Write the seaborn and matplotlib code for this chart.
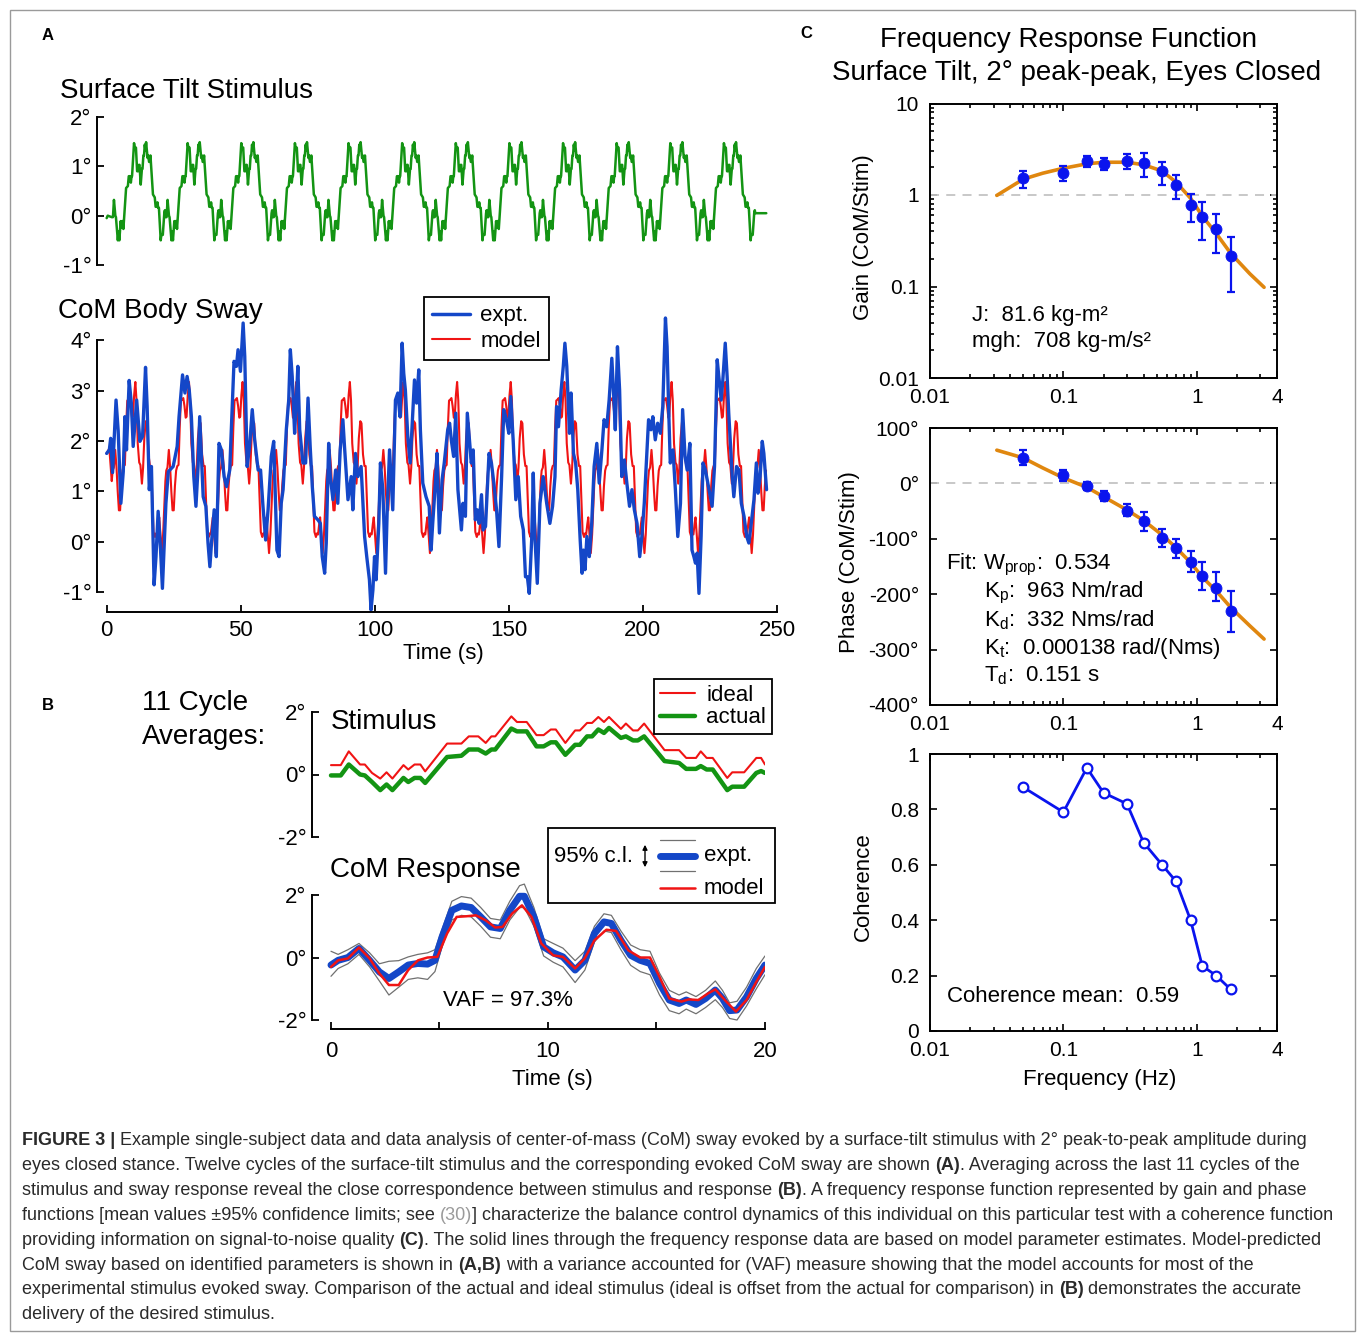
import re

import numpy as np
import matplotlib

matplotlib.use("Agg")
import matplotlib.pyplot as plt
import seaborn as sns
from matplotlib.lines import Line2D
from matplotlib.patches import Rectangle, FancyArrowPatch

W, H = 1357, 1334
FONT = "Liberation Sans"

BLUE = "#1447c8"
RED = "#f01414"
GREEN = "#139413"
CBLUE = "#0a14ee"
ORANGE = "#e0870f"

# ---------------- panel A: CoM sway over the whole trial (expt.) ----------------
a_expt_t = [
    0.0, 1.0, 1.5, 2.2, 3.5, 4.3, 5.3, 6.2, 6.8, 7.4,
    8.4, 9.2, 9.9, 11.2, 12.4, 13.4, 14.5, 15.1, 15.9, 16.7,
    17.7, 18.4, 19.2, 20.1, 20.8, 22.1, 23.0, 24.8, 26.3, 27.0,
    28.3, 29.2, 30.0, 30.8, 31.6, 32.5, 33.3, 34.1, 34.7, 36.0,
    37.0, 37.8, 38.5, 39.1, 40.1, 40.9, 41.9, 42.8, 43.8, 44.7,
    45.9, 46.5, 47.5, 48.4, 49.0, 49.9, 50.9, 51.5, 52.4, 53.3,
    54.3, 55.2, 56.5, 57.4, 58.3, 59.3, 60.2, 61.4, 62.3, 63.0,
    63.5, 64.3, 65.1, 65.8, 67.0, 67.9, 68.5, 69.2, 70.1, 70.7,
    71.3, 72.0, 73.2, 74.2, 75.1, 75.9, 76.7, 77.5, 78.8, 79.7,
    80.4, 81.3, 81.9, 82.8, 83.4, 84.4, 85.4, 86.2, 87.1, 88.1,
    88.7, 90.0, 91.2, 91.8, 92.8, 93.7, 94.9, 96.2, 97.0, 98.0,
    98.6, 99.3, 99.9, 100.5, 101.5, 102.1, 103.0, 104.0, 104.6, 105.5,
    106.1, 106.7, 107.7, 108.6, 109.4, 110.2, 110.8, 111.4, 112.3, 113.2,
    113.9, 114.8, 115.6, 116.4, 117.0, 117.9, 119.1, 120.3, 121.0, 121.6,
    122.6, 123.2, 124.1, 125.1, 125.9, 127.2, 127.9, 128.6, 129.4, 130.2,
    131.0, 132.3, 132.9, 133.8, 134.5, 135.4, 136.0, 136.7, 137.5, 138.2,
    138.9, 139.8, 140.4, 141.3, 142.6, 143.5, 144.4, 145.4, 146.3, 147.3,
    148.1, 149.1, 150.0, 150.7, 151.6, 152.6, 153.5, 154.4, 155.4, 156.2,
    156.9, 157.6, 158.5, 159.1, 159.7, 160.6, 161.6, 162.8, 164.1, 165.3,
    166.3, 167.2, 167.8, 168.5, 169.5, 170.3, 170.9, 171.6, 172.6, 173.2,
    174.1, 174.9, 175.7, 176.6, 177.3, 177.8, 178.4, 179.1, 180.0, 180.9,
    181.8, 182.8, 183.7, 184.7, 185.5, 186.5, 187.4, 188.4, 189.0, 189.7,
    190.5, 191.3, 192.1, 193.1, 194.0, 195.0, 195.9, 196.8, 197.8, 198.8,
    199.6, 200.5, 201.2, 202.1, 203.0, 203.7, 204.6, 205.5, 206.5, 207.4,
    208.4, 209.0, 209.6, 210.2, 211.2, 212.1, 213.0, 214.0, 214.8, 215.7,
    216.5, 217.5, 218.3, 219.0, 219.6, 220.2, 220.9, 221.7, 222.4, 223.3,
    224.2, 224.9, 225.8, 226.7, 227.7, 228.3, 229.2, 229.8, 230.7, 231.4,
    232.0, 232.7, 233.3, 233.9, 234.9, 235.8, 236.7, 237.7, 238.7, 239.5,
    240.4, 241.4, 242.3, 242.9, 243.7, 244.5, 245.1, 246.1,
]
a_expt = [
    1.75, 1.82, 2.05, 1.37, 2.81, 2.20, 0.76, 1.39, 2.48, 1.82,
    3.20, 2.75, 1.89, 2.81, 1.99, 2.09, 3.46, 2.68, 1.03, 1.49,
    -0.86, -0.30, 0.60, -0.17, -0.93, 0.76, 1.39, 1.49, 1.89, 2.48,
    3.31, 2.95, 3.28, 3.01, 2.48, 1.29, 0.70, 1.49, 2.48, 0.89,
    0.70, -0.03, -0.50, -0.03, 0.63, -0.30, 1.95, 1.82, 1.29, 1.09,
    1.42, 2.22, 3.58, 3.48, 3.81, 3.38, 4.34, 3.68, 1.49, 1.89,
    2.62, 2.02, 1.42, 1.42, 0.70, 0.03, 0.63, 1.69, 1.99, 0.76,
    -0.17, -0.30, 0.76, 1.03, 2.22, 2.81, 3.81, 3.28, 2.15, 2.75,
    3.48, 2.22, 1.56, 1.56, 2.85, 1.89, 1.09, 0.50, 0.43, 0.36,
    -0.30, -0.63, -0.03, 1.95, 1.29, 0.83, 1.42, 0.76, 1.82, 2.42,
    1.89, 0.83, 1.29, 0.63, 1.75, 1.29, 1.49, 0.10, -0.30, -0.76,
    -1.36, -0.96, -0.30, -0.76, 0.36, 1.56, 1.03, -0.63, 0.56, 1.82,
    1.23, 0.63, 2.81, 2.95, 2.48, 3.94, 3.34, 3.01, 2.09, 1.56,
    2.28, 3.21, 2.75, 3.41, 2.22, 1.16, 0.89, 0.70, -0.17, 0.36,
    1.16, 1.75, 0.17, 1.23, 1.56, 2.22, 2.35, 1.99, 1.69, 2.55,
    1.03, 0.23, 0.76, 0.50, 2.55, 1.95, 1.56, 1.82, 0.43, 0.63,
    0.36, 0.93, 0.23, 0.30, 1.75, 1.56, 1.16, 0.63, -0.10, 1.29,
    2.62, 2.42, 2.15, 2.88, 2.02, 0.83, 1.29, 0.50, 0.23, -0.70,
    -0.70, -1.03, 0.03, 1.36, 0.10, -0.83, 0.76, 1.29, 0.76, 0.36,
    0.70, 1.29, 2.68, 2.28, 3.01, 3.48, 3.94, 3.48, 2.15, 2.95,
    1.75, 1.56, 1.03, 0.03, -0.63, -0.17, -0.56, 0.10, -0.30, 0.36,
    1.49, 1.95, 1.16, 1.82, 2.42, 2.28, 2.81, 3.64, 3.01, 2.22,
    3.87, 3.01, 1.29, 1.62, 1.16, 0.70, 1.03, 0.63, 0.36, -0.30,
    0.10, 0.76, 1.49, 2.42, 2.22, 2.48, 2.02, 2.35, 2.15, 2.68,
    4.44, 3.87, 2.62, 1.56, 1.82, 1.03, 0.10, 0.76, 2.62, 1.69,
    1.42, 1.95, -0.17, -0.30, -0.43, -0.23, -1.03, 0.10, 1.56, 1.42,
    1.16, 0.96, 0.70, 1.49, 3.61, 3.28, 2.81, 3.21, 3.94, 3.28,
    2.55, 1.89, 1.29, 0.89, 1.49, 1.42, 0.76, 0.50, 0.10, -0.03,
    0.36, 0.83, 1.56, 0.96, 1.29, 1.99, 1.75, 1.03,
]
assert len(a_expt_t) == len(a_expt)

# ---------------- panel B: one 20 s cycle (11 cycle averages) ----------------
stim_t = [
    0.0, 0.45, 0.82, 1.34, 1.56, 1.89, 2.27, 2.56, 2.83, 3.34,
    3.56, 3.85, 4.12, 4.34, 5.35, 6.01, 6.35, 6.79, 7.13, 7.39,
    7.57, 8.31, 8.57, 9.02, 9.47, 9.8, 10.13, 10.36, 10.8, 11.25,
    11.47, 11.8, 12.03, 12.32, 12.58, 12.81, 13.36, 13.59, 13.92, 14.14,
    14.43, 15.37, 16.04, 16.37, 16.82, 17.04, 17.31, 17.59, 18.26, 18.49,
    19.04, 19.6, 19.82, 20.0,
]
stim_ideal = [
    0.30, 0.30, 0.74, 0.32, 0.32, 0.05, -0.13, 0.07, -0.13, 0.30,
    0.16, 0.32, 0.32, 0.10, 0.99, 0.99, 1.22, 1.22, 1.01, 1.22,
    1.22, 1.86, 1.68, 1.68, 1.26, 1.26, 1.44, 1.44, 1.01, 1.41,
    1.41, 1.65, 1.65, 1.84, 1.68, 1.84, 1.46, 1.63, 1.41, 1.41,
    1.63, 0.78, 0.78, 0.53, 0.53, 0.74, 0.53, 0.53, -0.11, 0.07,
    0.07, 0.53, 0.53, 0.32,
]
stim_actual = [
    -0.03, -0.03, 0.32, 0.00, -0.03, -0.24, -0.50, -0.32, -0.50, -0.11,
    -0.24, -0.11, -0.11, -0.27, 0.56, 0.60, 0.80, 0.80, 0.67, 0.80,
    0.80, 1.47, 1.38, 1.38, 0.90, 0.90, 1.03, 1.03, 0.63, 0.95,
    0.95, 1.22, 1.22, 1.44, 1.33, 1.49, 1.17, 1.22, 1.09, 1.09,
    1.22, 0.43, 0.37, 0.18, 0.18, 0.27, 0.16, 0.16, -0.50, -0.39,
    -0.39, 0.05, 0.11, 0.05,
]
resp_t = [
    0.0, 0.33, 0.78, 1.29, 1.78, 2.23, 2.67, 3.12, 3.56, 4.0,
    4.45, 4.79, 5.12, 5.57, 6.01, 6.46, 6.9, 7.35, 7.8, 8.24,
    8.69, 8.91, 9.35, 9.8, 10.24, 10.69, 11.25, 11.7, 12.14, 12.58,
    12.92, 13.36, 13.81, 14.25, 14.7, 15.14, 15.59, 16.04, 16.37, 16.82,
    17.26, 17.71, 18.04, 18.37, 18.71, 19.15, 19.6, 20.0,
]
resp_expt = [
    -0.24, -0.09, 0.0, 0.29, -0.09, -0.46, -0.67, -0.46, -0.24, -0.19,
    -0.21, -0.09, 0.66, 1.51, 1.65, 1.60, 1.30, 0.98, 0.93, 1.51,
    1.96, 1.96, 1.30, 0.34, 0.15, 0.02, -0.40, -0.09, 0.77, 1.14,
    1.09, 0.55, 0.07, -0.09, -0.19, -0.83, -1.36, -1.47, -1.36, -1.50,
    -1.31, -1.04, -1.31, -1.70, -1.68, -1.26, -0.67, -0.24,
]
resp_hi = [
    0.2, 0.1, 0.25, 0.45, 0.15, -0.2, -0.12, -0.1, 0.02, 0.1,
    0.15, 0.25, 0.9, 1.8, 1.95, 1.9, 1.6, 1.25, 1.2, 1.8,
    2.3, 2.35, 1.6, 0.6, 0.45, 0.3, -0.1, 0.2, 1.0, 1.4,
    1.35, 0.85, 0.4, 0.25, 0.2, -0.5, -1.05, -1.2, -1.1, -1.25,
    -1.05, -0.75, -1.05, -1.45, -1.4, -0.95, -0.35, 0.05,
]
resp_lo = [
    -0.6, -0.35, -0.2, 0.1, -0.3, -0.75, -1.2, -0.95, -0.7, -0.65,
    -0.7, -0.45, 0.35, 1.2, 1.35, 1.3, 1.0, 0.65, 0.6, 1.2,
    1.6, 1.6, 1.0, 0.05, -0.15, -0.3, -0.8, -0.4, 0.5, 0.85,
    0.8, 0.25, -0.25, -0.45, -0.55, -1.2, -1.7, -1.8, -1.65, -1.8,
    -1.6, -1.35, -1.6, -1.95, -2.0, -1.55, -1.0, -0.55,
]
model_t = [
    0.0, 0.33, 0.78, 1.29, 1.78, 2.23, 2.67, 3.12, 3.56, 4.01,
    4.45, 4.9, 5.35, 5.79, 6.24, 6.68, 7.13, 7.57, 7.91, 8.35,
    8.8, 9.24, 9.69, 10.24, 10.69, 11.25, 11.69, 12.14, 12.69, 13.14,
    13.7, 14.25, 14.7, 15.14, 15.59, 16.15, 16.48, 16.93, 17.37, 17.71,
    18.15, 18.66, 19.15, 19.6, 20.0,
]
resp_model = [
    -0.30, -0.09, -0.03, 0.32, -0.03, -0.51, -0.88, -0.88, -0.40, -0.09,
    0.0, 0.02, 0.77, 1.30, 1.32, 1.35, 1.19, 0.96, 0.98, 1.41,
    1.67, 1.30, 0.45, 0.07, 0.02, -0.35, -0.03, 0.55, 0.89, 0.85,
    0.23, 0.0, 0.0, -0.62, -1.31, -1.41, -1.34, -1.36, -1.15, -1.02,
    -1.36, -1.73, -1.36, -0.78, -0.30,
]

# panel A stimulus and model are 12 repeats of the same 20 s cycle
PERIOD = 20.0
N_CYCLES = 12
CYCLE_START = 1.9
SWAY_OFFSET = 1.5
stim_lead_t = [0.0, 0.4]
stim_lead = [-0.05, 0.0]
stim_tail_t = [246.0]
stim_tail = [0.05]
model_lead_t = [0.0, 1.0]
model_lead = [1.75, 1.85]

# ---------------- panel C: frequency response function ----------------
freq = [0.05, 0.1, 0.15, 0.2, 0.3, 0.4, 0.55, 0.7, 0.9, 1.1, 1.4, 1.8]
gain = [1.52, 1.76, 2.36, 2.19, 2.34, 2.21, 1.82, 1.29, 0.77, 0.58, 0.42, 0.215]
gain_hi = [1.85, 2.05, 2.64, 2.55, 2.82, 2.86, 2.27, 1.66, 1.02, 0.84, 0.62, 0.346]
gain_lo = [1.18, 1.44, 2.01, 1.88, 1.91, 1.59, 1.29, 0.90, 0.51, 0.326, 0.232, 0.086]
phase = [46, 16, -5, -23, -50, -68, -99, -117, -141, -167, -188, -231]
phase_hi = [60, 25, 2, -14, -38, -51, -83, -100, -122, -141, -160, -195]
phase_lo = [34, 5, -12, -32, -59, -86, -115, -134, -160, -193, -213, -268]
coherence = [0.88, 0.79, 0.95, 0.86, 0.82, 0.68, 0.60, 0.54, 0.40, 0.235, 0.20, 0.15]

fit_f = [0.0317, 0.05, 0.07, 0.1, 0.15, 0.2, 0.3, 0.4, 0.55, 0.7, 0.9, 1.1, 1.4, 1.8, 2.5, 3.2]
gain_fit = [0.99, 1.49, 1.73, 1.96, 2.19, 2.28, 2.28, 2.14, 1.83, 1.38, 0.92, 0.59, 0.38, 0.23, 0.138, 0.098]
phase_fit = [60, 46, 28, 10, -7, -24, -48, -67, -93, -116, -143, -169, -194, -224, -257, -281]

CAPTION = [
    "**FIGURE 3 |** Example single-subject data and data analysis of center-of-mass (CoM) sway evoked by a surface-tilt stimulus with 2° peak-to-peak amplitude during",
    "eyes closed stance. Twelve cycles of the surface-tilt stimulus and the corresponding evoked CoM sway are shown **(A)**. Averaging across the last 11 cycles of the",
    "stimulus and sway response reveal the close correspondence between stimulus and response **(B)**. A frequency response function represented by gain and phase",
    "functions [mean values ±95% confidence limits; see ^^(30)^^] characterize the balance control dynamics of this individual on this particular test with a coherence function",
    "providing information on signal-to-noise quality **(C)**. The solid lines through the frequency response data are based on model parameter estimates. Model-predicted",
    "CoM sway based on identified parameters is shown in **(A,B)** with a variance accounted for (VAF) measure showing that the model accounts for most of the",
    "experimental stimulus evoked sway. Comparison of the actual and ideal stimulus (ideal is offset from the actual for comparison) in **(B)** demonstrates the accurate",
    "delivery of the desired stimulus.",
]

# ---------------- style ----------------
sns.set_theme(style="ticks")
plt.rcParams["font.family"] = [FONT, "DejaVu Sans"]
plt.rcParams["mathtext.fontset"] = "custom"
plt.rcParams["mathtext.rm"] = FONT
plt.rcParams["mathtext.it"] = FONT + ":italic"
plt.rcParams["mathtext.bf"] = FONT + ":bold"
plt.rcParams["axes.linewidth"] = 1.4
plt.rcParams["axes.edgecolor"] = "black"
plt.rcParams["xtick.color"] = "black"
plt.rcParams["ytick.color"] = "black"
plt.rcParams["text.color"] = "black"

fig = plt.figure(figsize=(W / 100, H / 100), dpi=100)


def px_ax(x0, y0, x1, y1):
    return fig.add_axes([x0 / W, 1 - y1 / H, (x1 - x0) / W, (y1 - y0) / H])


def ftext(x, y, s, **kw):
    return fig.text(x / W, 1 - y / H, s, **kw)


def line(ax, x, y, **kw):
    sns.lineplot(x=x, y=y, ax=ax, estimator=None, sort=False, legend=False, **kw)


def deg(vals):
    return [f"{v}°" for v in vals]


def matlab_axis(ax, size=16):
    ax.set_facecolor("none")
    ax.tick_params(direction="in", length=5, width=1.3, labelsize=size, pad=4)
    for s in ["top", "right"]:
        ax.spines[s].set_visible(False)


# ---------------- A ----------------
cyc = CYCLE_START + PERIOD * np.arange(N_CYCLES)[:, None]
a_stim_t = np.concatenate([stim_lead_t, (cyc + np.asarray(stim_t[:-1])).ravel(),
                           [CYCLE_START + PERIOD * N_CYCLES], stim_tail_t])
a_stim = np.concatenate([stim_lead, np.tile(stim_actual[:-1], N_CYCLES),
                         [stim_actual[-1]], stim_tail])

cyc_m = CYCLE_START + PERIOD * np.arange(N_CYCLES + 1)[:, None]
m_t = (cyc_m + np.asarray(model_t[:-1])).ravel()
m_v = np.tile(resp_model[:-1], N_CYCLES + 1) + SWAY_OFFSET
keep = m_t <= a_expt_t[-1]
a_model_t = np.concatenate([model_lead_t, m_t[keep]])
a_model = np.concatenate([model_lead, m_v[keep]])

ax = px_ax(97, 117, 777, 265)
line(ax, a_stim_t, a_stim, color=GREEN, linewidth=1.8)
ax.set_xlim(-3.6, 250)
ax.set_ylim(-1, 2)
matlab_axis(ax)
ax.spines["bottom"].set_visible(False)
ax.set_xticks([])
ax.set_yticks([-1, 0, 1, 2], deg([-1, 0, 1, 2]))

ax = px_ax(97, 315, 777, 612)
line(ax, a_model_t, a_model, color=RED, linewidth=1.5)
line(ax, a_expt_t, a_expt, color=BLUE, linewidth=2.4)
ax.set_xlim(-3.6, 250)
ax.set_ylim(-1.4, 4.5)
matlab_axis(ax)
ax.spines["left"].set_bounds(-1, 4)
ax.spines["bottom"].set_bounds(0, 250)
ax.set_xticks(range(0, 251, 50))
ax.set_yticks(range(-1, 5), deg(range(-1, 5)))
ax.tick_params(axis="x", pad=6)
leg = ax.legend(handles=[Line2D([], [], color=BLUE, lw=2.5, label="expt."),
                         Line2D([], [], color=RED, lw=1.5, label="model")],
                loc="upper left", bbox_to_anchor=(424 / W, 1 - 297 / H),
                bbox_transform=fig.transFigure, fontsize=16, fancybox=False,
                edgecolor="black", framealpha=1, handlelength=1.7, handletextpad=0.45,
                borderpad=0.38, labelspacing=0.2, borderaxespad=0)
leg.get_frame().set_linewidth(1.3)

ftext(48, 35, "A", fontsize=12, fontweight="bold", ha="center", va="center")
ftext(60, 91, "Surface Tilt Stimulus", fontsize=20, va="center")
ftext(58, 311, "CoM Body Sway", fontsize=20, va="center")
ftext(443, 653, "Time (s)", fontsize=16, ha="center", va="center")

# ---------------- B ----------------
ax = px_ax(312, 712, 765, 837)
line(ax, stim_t, stim_ideal, color=RED, linewidth=1.5)
line(ax, stim_t, stim_actual, color=GREEN, linewidth=3.2)
ax.set_xlim(-0.875, 20)
ax.set_ylim(-2, 2)
matlab_axis(ax)
ax.spines["bottom"].set_visible(False)
ax.set_xticks([])
ax.set_yticks([-2, 0, 2], deg([-2, 0, 2]))
leg = ax.legend(handles=[Line2D([], [], color=RED, lw=1.5, label="ideal"),
                         Line2D([], [], color=GREEN, lw=3.2, label="actual")],
                loc="upper left", bbox_to_anchor=(654 / W, 1 - 679 / H),
                bbox_transform=fig.transFigure, fontsize=16, fancybox=False,
                edgecolor="black", framealpha=1, handlelength=1.6, handletextpad=0.5,
                borderpad=0.25, labelspacing=0.08, borderaxespad=0)
leg.get_frame().set_linewidth(1.3)

ax = px_ax(312, 879.4, 765, 1029.4)
line(ax, resp_t, resp_hi, color="#707070", linewidth=0.9)
line(ax, resp_t, resp_lo, color="#707070", linewidth=0.9)
line(ax, resp_t, resp_expt, color=BLUE, linewidth=5)
line(ax, model_t, resp_model, color=RED, linewidth=1.8)
ax.set_xlim(-0.875, 20)
ax.set_ylim(-2.3, 2.5)
matlab_axis(ax)
ax.spines["left"].set_bounds(-2, 2)
ax.spines["bottom"].set_bounds(0, 20)
ax.set_xticks([0, 5, 10, 15, 20], ["0", "", "10", "", "20"])
ax.set_yticks([-2, 0, 2], deg([-2, 0, 2]))
ax.tick_params(axis="x", pad=8)

# hand-made legend for the response panel
fig.add_artist(Rectangle((548 / W, 1 - 903 / H), 227 / W, 75 / H, transform=fig.transFigure,
                         fill=True, fc="white", ec="black", lw=1.3))
for yy, c, lw in [(840, "#707070", 0.9), (871, "#707070", 0.9), (856, BLUE, 5), (888, RED, 1.8)]:
    fig.add_artist(Line2D([660 / W, 695 / W], [1 - yy / H] * 2, color=c, lw=lw,
                          transform=fig.transFigure))
fig.add_artist(FancyArrowPatch((645 / W, 1 - 842 / H), (645 / W, 1 - 870 / H),
                               transform=fig.transFigure, arrowstyle="<|-|>",
                               mutation_scale=7, lw=1, color="black"))
ftext(554, 856, "95% c.l.", fontsize=16, va="center")
ftext(704, 856, "expt.", fontsize=16, va="center")
ftext(704, 888, "model", fontsize=16, va="center")

ftext(48, 706, "B", fontsize=12, fontweight="bold", ha="center", va="center")
ftext(142, 703, "11 Cycle", fontsize=20, va="center")
ftext(142, 737, "Averages:", fontsize=20, va="center")
ftext(331, 722, "Stimulus", fontsize=20, va="center")
ftext(330, 870, "CoM Response", fontsize=20, va="center")
ftext(443, 1000, "VAF = 97.3%", fontsize=16, va="center")
ftext(552, 1080, "Time (s)", fontsize=16, ha="center", va="center")


# ---------------- C ----------------
def freq_axis(ax):
    ax.set_xscale("log")
    ax.set_xlim(0.01, 4)
    ax.set_xticks([0.01, 0.1, 1, 4], ["0.01", "0.1", "1", "4"])
    ax.xaxis.set_minor_formatter(matplotlib.ticker.NullFormatter())
    ax.tick_params(which="both", direction="in", top=True, right=True, width=1.2, labelsize=15)
    ax.tick_params(axis="x", pad=7)
    ax.tick_params(axis="y", pad=8)
    ax.tick_params(which="major", length=5)
    ax.tick_params(which="minor", length=2.8)
    ax.set_facecolor("none")


ax = px_ax(930, 103.5, 1277, 378)
ax.set_yscale("log")
freq_axis(ax)
ax.set_ylim(0.01, 10)
ax.set_yticks([0.01, 0.1, 1, 10], ["0.01", "0.1", "1", "10"])
ax.yaxis.set_minor_formatter(matplotlib.ticker.NullFormatter())
ax.axhline(1, color="#c4c4c4", lw=1.3, ls=(0, (5, 4)), zorder=1)
line(ax, fit_f, gain_fit, color=ORANGE, linewidth=2.6)
ax.errorbar(freq, gain, yerr=[np.subtract(gain, gain_lo), np.subtract(gain_hi, gain)], fmt="none",
            ecolor=CBLUE, elinewidth=1.6, capsize=3, capthick=1.6, zorder=3)
sns.scatterplot(x=freq, y=gain, ax=ax, color=CBLUE, s=62, edgecolor=CBLUE, zorder=4, legend=False)
ftext(972, 316, "J:  81.6 kg-m²", fontsize=16, va="center")
ftext(972, 342, "mgh:  708 kg-m/s²", fontsize=16, va="center")

ax = px_ax(930, 428, 1277, 705)
ax.set_xscale("log")
freq_axis(ax)
ax.set_ylim(-400, 100)
ax.set_yticks(range(-400, 101, 100), deg(range(-400, 101, 100)))
ax.axhline(0, color="#c4c4c4", lw=1.3, ls=(0, (5, 4)), zorder=1)
line(ax, fit_f, phase_fit, color=ORANGE, linewidth=2.6)
ax.errorbar(freq, phase, yerr=[np.subtract(phase, phase_lo), np.subtract(phase_hi, phase)], fmt="none",
            ecolor=CBLUE, elinewidth=1.6, capsize=3, capthick=1.6, zorder=3)
sns.scatterplot(x=freq, y=phase, ax=ax, color=CBLUE, s=62, edgecolor=CBLUE, zorder=4, legend=False)
ftext(946, 565, r"Fit: W$_{\mathrm{prop}}$:  0.534", fontsize=16, va="center")
ftext(984, 593, r"K$_{\mathrm{p}}$:  963 Nm/rad", fontsize=16, va="center")
ftext(984, 620, r"K$_{\mathrm{d}}$:  332 Nms/rad", fontsize=16, va="center")
ftext(984, 648, r"K$_{\mathrm{t}}$:  0.000138 rad/(Nms)", fontsize=16, va="center")
ftext(984, 676, r"T$_{\mathrm{d}}$:  0.151 s", fontsize=16, va="center")

ax = px_ax(930, 754, 1277, 1031)
ax.set_xscale("log")
freq_axis(ax)
ax.set_ylim(0, 1)
ax.set_yticks([0, 0.2, 0.4, 0.6, 0.8, 1], ["0", "0.2", "0.4", "0.6", "0.8", "1"])
line(ax, freq, coherence, color=CBLUE, linewidth=2, marker="o", markersize=7,
     markerfacecolor="white", markeredgecolor=CBLUE, markeredgewidth=1.6)
ftext(947, 996, "Coherence mean:  0.59", fontsize=16, va="center")

ftext(806, 33, "C", fontsize=12, fontweight="bold", ha="center", va="center")
ftext(1068, 40, "Frequency Response Function", fontsize=20, ha="center", va="center")
ftext(1077, 73, "Surface Tilt, 2° peak-peak, Eyes Closed", fontsize=20, ha="center", va="center")
ftext(863, 237, "Gain (CoM/Stim)", fontsize=16, rotation=90, ha="center", va="center")
ftext(849, 562, "Phase (CoM/Stim)", fontsize=16, rotation=90, ha="center", va="center")
ftext(863, 887, "Coherence", fontsize=16, rotation=90, ha="center", va="center")
ftext(1100, 1080, "Frequency (Hz)", fontsize=16, ha="center", va="center")

# ---------------- frame and caption ----------------
fig.add_artist(Rectangle((10 / W, 1 - 1331 / H), 1345 / W, 1321 / H, transform=fig.transFigure,
                         fill=False, ec="#9a9a9a", lw=1))

renderer = fig.canvas.get_renderer()


def text_w(s, weight, size):
    t1 = fig.text(0, 0, "|" + s + "|", fontsize=size, fontweight=weight)
    t2 = fig.text(0, 0, "||", fontsize=size, fontweight=weight)
    w = t1.get_window_extent(renderer).width - t2.get_window_extent(renderer).width
    t1.remove()
    t2.remove()
    return w


plain4 = CAPTION[3].replace("**", "").replace("^^", "")
cap_size = 12 * (1336 - 22) / text_w(plain4, "normal", 12)

for i, row in enumerate(CAPTION):
    x = 22.0
    y = 1145 + 24.9 * i
    bold = gray = False
    for part in re.split(r"(\*\*|\^\^)", row):
        if part == "**":
            bold = not bold
            continue
        if part == "^^":
            gray = not gray
            continue
        if not part:
            continue
        wt = "bold" if bold else "normal"
        core = part.strip(" ")
        lead = len(part) - len(part.lstrip(" "))
        trail = len(part) - len(part.rstrip(" "))
        sp = text_w(" ", wt, cap_size)
        x += lead * sp
        ftext(x, y, core, fontsize=cap_size, fontweight=wt, va="baseline",
              color="#9a9a9a" if gray else "#2a2a2a")
        x += text_w(core, wt, cap_size) + trail * sp

fig.savefig("out.png", dpi=100, facecolor="white")
